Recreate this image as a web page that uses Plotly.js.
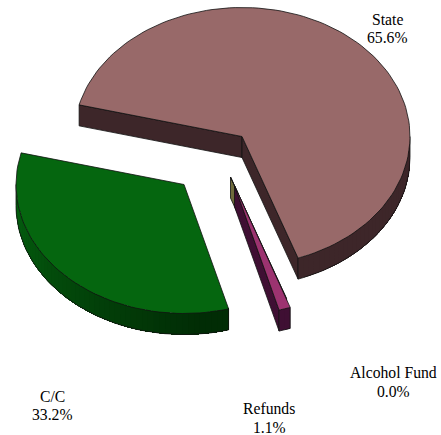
<!DOCTYPE html>
<html>
<head>
<meta charset="utf-8">
<script src="https://cdn.plot.ly/plotly-3.0.1.min.js"></script>
<style>html,body{margin:0;padding:0;background:#fff}#chart{width:441px;height:435px}</style>
</head>
<body>
<div id="chart"></div>
<script>
var categories = ["State", "Alcohol Fund", "Refunds", "C/C"];
var shares = [65.6, 0.04, 1.1, 33.2];
var topColors = ["#986969", "#6f6b3c", "#9c3370", "#05660f"];
var sideColors = ["#3d2629", "#6f6b3c", "#3f0f33", "#012c05"];
var rimLightColors = ["#3d2629", "#6f6b3c", "#3f0f33", "#04600f"];
var pieCentresX = [242, 230.5, 234.5, 184];
var pieCentresY = [136.5, 177, 185.7, 184.5];
var labelX = [387, 393.3, 269, 52];
var nameY = [19.3, 372.7, 408, 396];
var valueY = [37.3, 391.7, 427, 414];

var RX = 168, RY = 129, DEPTH = 21, START = -75.8;

function pt(cx, cy, deg, drop) {
  var r = deg * Math.PI / 180;
  return [cx + RX * Math.sin(r), cy - RY * Math.cos(r) + (drop || 0)];
}
function hex(c) { return [1, 3, 5].map(function (i) { return parseInt(c.substr(i, 2), 16); }); }
function mix(a, b, t) {
  var A = hex(a), B = hex(b);
  return "rgb(" + A.map(function (v, i) { return Math.round(v + (B[i] - v) * t); }).join(",") + ")";
}
function poly(points, fill, lineColor, lineWidth) {
  return {
    type: "scatter", mode: lineColor ? "lines" : "none", hoverinfo: "skip", showlegend: false,
    x: points.map(function (p) { return p[0]; }),
    y: points.map(function (p) { return p[1]; }),
    fill: fill ? "toself" : "none", fillcolor: fill || undefined,
    line: { color: lineColor || "rgba(0,0,0,0)", width: lineWidth || 0.8 }
  };
}
function steps(from, to, size) {
  var n = Math.max(2, Math.ceil((to - from) / size)), out = [];
  for (var k = 0; k <= n; k++) out.push(from + (to - from) * k / n);
  return out;
}

var total = shares.reduce(function (s, v) { return s + v; }, 0);
var traces = [], a0 = START;
shares.forEach(function (v, i) {
  var sweep = v / total * 360, a1 = a0 + sweep;
  var cx = pieCentresX[i], cy = pieCentresY[i];
  var arc = steps(a0, a1, 2);

  // cut faces that face the viewer
  function cutFace(angle) {
    traces.push(poly([[cx, cy], pt(cx, cy, angle), pt(cx, cy, angle, DEPTH), [cx, cy + DEPTH], [cx, cy]], sideColors[i], "#111", 0.8));
  }
  if (i === 0) { cutFace(a0); cutFace(a1); }
  if (i === 1 || i === 2) { cutFace(a1); }

  // outer rim: bands overlap towards the end of the arc so that no seams show
  var lo = Math.max(a0, 90), hi = Math.min(a1, 270);
  if (hi > lo) {
    var rim = steps(lo, hi, 2);
    var order = rim.slice().reverse();
    for (var k = 0; k < order.length - 1; k++) {
      var t = Math.max(0, Math.min(1, (order[k] - 175) / 95));
      var from = order[k], band = steps(lo, from, 2);
      var outline = band.map(function (a) { return pt(cx, cy, a); })
        .concat(band.slice().reverse().map(function (a) { return pt(cx, cy, a, DEPTH); }));
      traces.push(poly(outline, mix(sideColors[i], rimLightColors[i], t)));
    }
    traces.push(poly(rim.map(function (a) { return pt(cx, cy, a, DEPTH); }), null, "#111", 0.8));
    traces.push(poly([pt(cx, cy, lo), pt(cx, cy, lo, DEPTH)], null, "#111", 0.8));
    traces.push(poly([pt(cx, cy, hi), pt(cx, cy, hi, DEPTH)], null, "#111", 0.8));
  }

  // top face
  var top = [[cx, cy]].concat(arc.map(function (a) { return pt(cx, cy, a); }), [[cx, cy]]);
  traces.push(poly(top, topColors[i], "#111", 0.8));
  a0 = a1;
});

var labelFont = { family: "Liberation Serif, Times New Roman, serif", size: 15.7, color: "#000" };
function label(x, y, text) {
  return { x: x, y: y, xref: "x", yref: "y", showarrow: false, xanchor: "center", yanchor: "middle", text: text, font: labelFont };
}
var annotations = [];
categories.forEach(function (name, i) {
  annotations.push(label(labelX[i], nameY[i], name));
  annotations.push(label(labelX[i], valueY[i], shares[i].toFixed(1) + "%"));
});

Plotly.newPlot("chart", traces, {
  width: 441, height: 435,
  margin: { l: 0, r: 0, t: 0, b: 0 },
  paper_bgcolor: "#fff", plot_bgcolor: "#fff",
  showlegend: false,
  xaxis: { range: [0, 441], visible: false, fixedrange: true },
  yaxis: { range: [435, 0], visible: false, fixedrange: true },
  annotations: annotations
}, { displayModeBar: false, staticPlot: true });
</script>
</body>
</html>
